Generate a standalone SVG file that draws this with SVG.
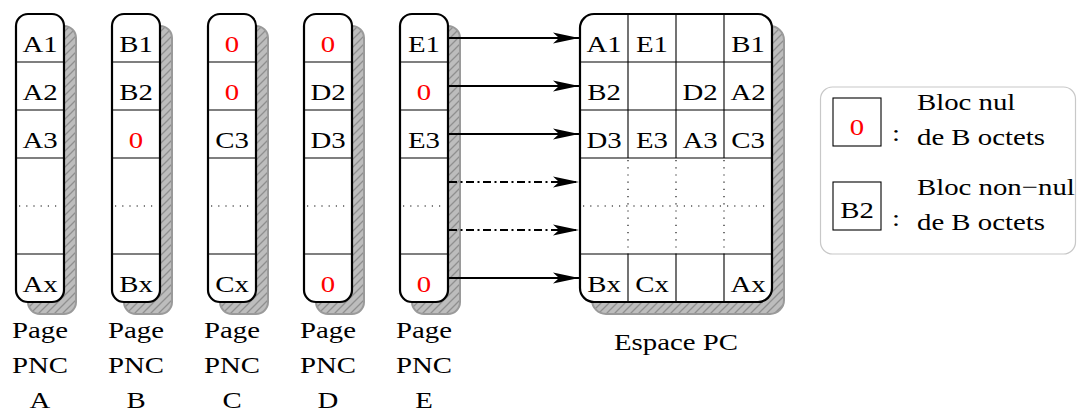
<svg xmlns="http://www.w3.org/2000/svg" width="1078" height="413" viewBox="0 0 1078 413">
<defs>
<pattern id="hatch" patternUnits="userSpaceOnUse" width="8" height="8">
<rect width="8" height="8" fill="#bdbdbd"/>
<path d="M-2,2 L2,-2 M0,8 L8,0 M6,10 L10,6" stroke="#8f8f8f" stroke-width="1.3"/>
</pattern>
<marker id="stealth" markerUnits="userSpaceOnUse" markerWidth="30" markerHeight="14" refX="26" refY="6" orient="auto" overflow="visible">
<path d="M26,6 L0,0.5 L6,6 L0,11.5 Z" fill="#000"/>
</marker>
</defs>
<style>
.t{font-family:"Liberation Serif","Times New Roman",serif;font-size:24px;fill:#000;text-anchor:middle;transform-box:fill-box;transform-origin:center;transform:scaleX(1.2)}
.tl{font-family:"Liberation Serif","Times New Roman",serif;font-size:24px;fill:#000;text-anchor:start;transform-box:fill-box;transform-origin:left center;transform:scaleX(1.2)}
.red{fill:#ff0000}
.shadow{fill:url(#hatch);stroke:#9a9a9a;stroke-width:2}
.box{fill:#fff;stroke:#000;stroke-width:2.2}
.div{stroke:#000;stroke-width:1.1;fill:none}
.dot{stroke:#000;stroke-width:1.1;stroke-dasharray:1.2 6;fill:none}
.arr{stroke:#000;stroke-width:2;fill:none;marker-end:url(#stealth)}
.arrd{stroke:#000;stroke-width:2;fill:none;stroke-dasharray:8 3.5 2 3.5;marker-end:url(#stealth)}
</style>

<g id="page-A">
<rect class="shadow" x="28" y="26" width="48" height="288" rx="12"/>
<rect class="box" x="16" y="14" width="48" height="288" rx="12"/>
<path class="div" d="M16,62H64M16,110H64M16,158H64M16,254H64"/>
<path class="dot" d="M19,206H62"/>
<text class="t" x="40" y="52">A1</text>
<text class="t" x="40" y="100">A2</text>
<text class="t" x="40" y="148">A3</text>
<text class="t" x="40" y="292">Ax</text>
<text class="t" x="40" y="338">Page</text>
<text class="t" x="40" y="373">PNC</text>
<text class="t" x="40" y="408">A</text>
</g>

<g id="page-B">
<rect class="shadow" x="124" y="26" width="48" height="288" rx="12"/>
<rect class="box" x="112" y="14" width="48" height="288" rx="12"/>
<path class="div" d="M112,62H160M112,110H160M112,158H160M112,254H160"/>
<path class="dot" d="M115,206H158"/>
<text class="t" x="136" y="52">B1</text>
<text class="t" x="136" y="100">B2</text>
<text class="t red" x="136" y="148">0</text>
<text class="t" x="136" y="292">Bx</text>
<text class="t" x="136" y="338">Page</text>
<text class="t" x="136" y="373">PNC</text>
<text class="t" x="136" y="408">B</text>
</g>

<g id="page-C">
<rect class="shadow" x="220" y="26" width="48" height="288" rx="12"/>
<rect class="box" x="208" y="14" width="48" height="288" rx="12"/>
<path class="div" d="M208,62H256M208,110H256M208,158H256M208,254H256"/>
<path class="dot" d="M211,206H254"/>
<text class="t red" x="232" y="52">0</text>
<text class="t red" x="232" y="100">0</text>
<text class="t" x="232" y="148">C3</text>
<text class="t" x="232" y="292">Cx</text>
<text class="t" x="232" y="338">Page</text>
<text class="t" x="232" y="373">PNC</text>
<text class="t" x="232" y="408">C</text>
</g>

<g id="page-D">
<rect class="shadow" x="316" y="26" width="48" height="288" rx="12"/>
<rect class="box" x="304" y="14" width="48" height="288" rx="12"/>
<path class="div" d="M304,62H352M304,110H352M304,158H352M304,254H352"/>
<path class="dot" d="M307,206H350"/>
<text class="t red" x="328" y="52">0</text>
<text class="t" x="328" y="100">D2</text>
<text class="t" x="328" y="148">D3</text>
<text class="t red" x="328" y="292">0</text>
<text class="t" x="328" y="338">Page</text>
<text class="t" x="328" y="373">PNC</text>
<text class="t" x="328" y="408">D</text>
</g>

<g id="page-E">
<rect class="shadow" x="412" y="26" width="48" height="288" rx="12"/>
<rect class="box" x="400" y="14" width="48" height="288" rx="12"/>
<path class="div" d="M400,62H448M400,110H448M400,158H448M400,254H448"/>
<path class="dot" d="M403,206H446"/>
<text class="t" x="424" y="52">E1</text>
<text class="t red" x="424" y="100">0</text>
<text class="t" x="424" y="148">E3</text>
<text class="t red" x="424" y="292">0</text>
<text class="t" x="424" y="338">Page</text>
<text class="t" x="424" y="373">PNC</text>
<text class="t" x="424" y="408">E</text>
</g>

<g id="espace-pc">
<rect class="shadow" x="592" y="26" width="192" height="288" rx="14"/>
<rect class="box" x="580" y="14" width="192" height="288" rx="14"/>
<path class="div" d="M580,62H772M580,110H772M580,158H772M580,254H772M628,14V158M676,14V158M724,14V158M628,254V302M676,254V302M724,254V302"/>
<path class="dot" d="M583,206H770M628,160V254M676,160V254M724,160V254"/>
<text class="t" x="604" y="52">A1</text>
<text class="t" x="652" y="52">E1</text>
<text class="t" x="748" y="52">B1</text>
<text class="t" x="604" y="100">B2</text>
<text class="t" x="700" y="100">D2</text>
<text class="t" x="748" y="100">A2</text>
<text class="t" x="604" y="148">D3</text>
<text class="t" x="652" y="148">E3</text>
<text class="t" x="700" y="148">A3</text>
<text class="t" x="748" y="148">C3</text>
<text class="t" x="604" y="292">Bx</text>
<text class="t" x="652" y="292">Cx</text>
<text class="t" x="748" y="292">Ax</text>
<text class="t" x="676" y="350">Espace PC</text>
</g>

<g id="connectors">
<path class="arr" d="M449,38H579"/>
<path class="arr" d="M449,86H579"/>
<path class="arr" d="M449,134H579"/>
<path class="arrd" d="M449,182H579"/>
<path class="arrd" d="M449,230H579"/>
<path class="arr" d="M449,278H579"/>
</g>

<g id="legend">
<rect x="820.5" y="87" width="255" height="167" rx="12" fill="#fff" stroke="#c8c8c8" stroke-width="1.2"/>
<rect x="833" y="98" width="48" height="48" fill="#fff" stroke="#000" stroke-width="1.1"/>
<text class="t red" x="857" y="135">0</text>
<text class="t" x="896" y="141">:</text>
<text class="tl" x="917" y="110">Bloc nul</text>
<text class="tl" x="917" y="145">de B octets</text>
<rect x="833" y="182" width="48" height="48" fill="#fff" stroke="#000" stroke-width="1.1"/>
<text class="t" x="857" y="218">B2</text>
<text class="t" x="896" y="226">:</text>
<text class="tl" x="917" y="195">Bloc non−nul</text>
<text class="tl" x="917" y="230">de B octets</text>
</g>
</svg>
